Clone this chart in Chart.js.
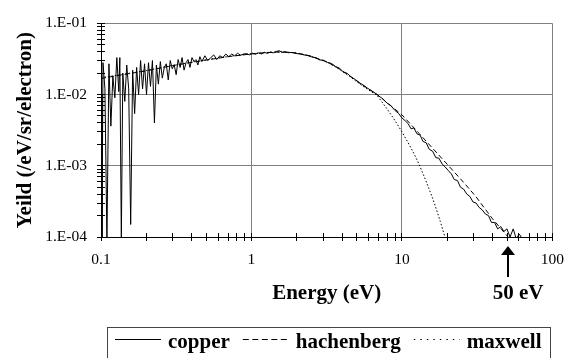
<!DOCTYPE html>
<html>
<head>
<meta charset="utf-8">
<script src="https://cdn.jsdelivr.net/npm/chart.js@4.4.1/dist/chart.umd.min.js"></script>
<style>
  html, body { margin: 0; padding: 0; background: #fff; }
  #wrap { width: 578px; height: 358px; }
</style>
</head>
<body>
<div id="wrap"><canvas id="yield-chart" width="578" height="358"></canvas></div>
<script>
// major ticks + labels
const xMajor = [0.1, 1, 10, 100]
const xLabels = ['0.1', '1', '10', '100']
const yMajor = [1e-4, 1e-3, 1e-2, 1e-1]
const yLabels = ['1.E-04', '1.E-03', '1.E-02', '1.E-01']
const arrowAt = 50
const arrowText = '50 eV'

// measured copper spectrum [energy eV, yield]
const copper = [
  [0.100, 0.0100], [0.1015, 0.00009], [0.1031, 0.028], [0.1062, 0.012], [0.1095, 0.00009],
  [0.1129, 0.027], [0.1163, 0.0036], [0.1199, 0.018], [0.1236, 0.009], [0.1274, 0.033],
  [0.1313, 0.011], [0.1334, 0.033], [0.1365, 0.00009], [0.1396, 0.020], [0.1439, 0.008],
  [0.1483, 0.026], [0.1528, 0.012], [0.1575, 0.00015], [0.1623, 0.022], [0.1673, 0.0054],
  [0.1725, 0.024], [0.1778, 0.010], [0.1833, 0.030], [0.1889, 0.012], [0.1947, 0.027],
  [0.2007, 0.010], [0.2068, 0.028], [0.2132, 0.013], [0.2197, 0.030], [0.2265, 0.0040],
  [0.2334, 0.026], [0.2406, 0.014], [0.2480, 0.029], [0.2556, 0.017], [0.2634, 0.024],
  [0.2715, 0.027], [0.2799, 0.016], [0.2885, 0.030], [0.2973, 0.023], [0.3065, 0.026],
  [0.3159, 0.019], [0.3256, 0.031], [0.3356, 0.024], [0.3459, 0.033], [0.3565, 0.022],
  [0.3675, 0.028], [0.3788, 0.031], [0.3904, 0.024], [0.4024, 0.033], [0.4148, 0.029],
  [0.4275, 0.031], [0.4406, 0.026], [0.4541, 0.034], [0.4680, 0.029], [0.490, 0.035],
  [0.512, 0.030], [0.537, 0.033], [0.562, 0.036], [0.588, 0.031], [0.616, 0.035],
  [0.645, 0.033], [0.675, 0.037], [0.707, 0.034], [0.739, 0.037], [0.773, 0.035],
  [0.809, 0.038], [0.847, 0.0355], [0.886, 0.037], [0.927, 0.0375], [0.970, 0.036],
  [1.015, 0.038], [1.063, 0.0368], [1.112, 0.0385], [1.164, 0.0372], [1.218, 0.0392],
  [1.274, 0.0378], [1.334, 0.0395], [1.396, 0.0384], [1.460, 0.0402], [1.528, 0.0412],
  [1.600, 0.0392], [1.674, 0.0398], [1.751, 0.0386], [1.860, 0.0390], [1.976, 0.0376],
  [2.099, 0.0372], [2.230, 0.0360], [2.369, 0.0354], [2.517, 0.0336], [2.674, 0.0328],
  [2.840, 0.0306], [3.018, 0.0302], [3.206, 0.0282], [3.406, 0.0273], [3.618, 0.0248],
  [3.844, 0.0234], [4.084, 0.0207], [4.338, 0.0198], [4.609, 0.0175], [4.896, 0.0163],
  [5.202, 0.0147], [5.526, 0.0136], [5.871, 0.0124], [6.237, 0.0114], [6.626, 0.0105],
  [7.04, 0.0095], [7.48, 0.0087], [7.95, 0.0076], [8.44, 0.0070], [8.97, 0.0060],
  [9.53, 0.0054], [10.0, 0.0047], [10.5, 0.0043], [11.0, 0.0039], [11.5, 0.0033],
  [12.0, 0.0034], [12.6, 0.0028], [13.2, 0.0027], [13.8, 0.0022], [14.5, 0.0021],
  [15.2, 0.0017], [16.0, 0.0016], [16.8, 0.0013], [17.6, 0.00128], [18.5, 0.00106],
  [19.4, 0.00096], [20.3, 0.00086], [21.3, 0.00077], [22.3, 0.00064], [23.4, 0.00062],
  [24.5, 0.00050], [25.7, 0.00047], [27.0, 0.00040], [28.3, 0.00037], [29.7, 0.00031],
  [31.1, 0.00030], [32.6, 0.00026], [34.2, 0.00024], [35.9, 0.00021], [37.6, 0.00020],
  [39.4, 0.00016], [41.3, 0.00016], [43.3, 0.00013], [45.4, 0.00014], [47.6, 0.00012],
  [49.9, 0.00013], [52.3, 0.000100], [54.9, 0.00013], [57.5, 0.000095], [60.3, 0.00011],
  [62.0, 0.00010]
]

// hachenberg fit
const hachE = [0.1, 0.15, 0.2, 0.3, 0.5, 0.7, 1.0, 1.25, 1.5, 1.75, 2.0, 2.5, 3.2, 3.8, 4.5, 5.5,
  6.85, 8.0, 10, 13, 16, 20, 26, 31, 40, 53, 60]
const hachY = [0.0168, 0.0195, 0.0215, 0.0255, 0.0305, 0.034, 0.0372, 0.0387, 0.0395, 0.0393, 0.0383,
  0.0345, 0.0285, 0.0232, 0.0183, 0.0135, 0.0100, 0.0076, 0.0052, 0.00285, 0.00176, 0.00105,
  0.00057, 0.00037, 0.00018, 0.00009, 0.000066]

// maxwell fit
const maxE = [0.1, 0.15, 0.2, 0.3, 0.5, 0.7, 1.0, 1.25, 1.5, 1.75, 2.0, 2.5, 3.2, 3.8, 4.5, 5.5,
  6.85, 8, 9, 10, 11, 12, 13, 14, 15, 16, 17, 18, 19, 20, 21]
const maxY = [0.0172, 0.0197, 0.0217, 0.0257, 0.0307, 0.0342, 0.0374, 0.0389, 0.0396, 0.0393, 0.0383,
  0.0344, 0.0283, 0.0229, 0.0179, 0.0131, 0.0097, 0.0062, 0.0043, 0.0030, 0.0021, 0.0015,
  0.00105, 0.00072, 0.00050, 0.00035, 0.00024, 0.000165, 0.000112, 0.000076, 0.00005]

const serif = "'Liberation Serif', 'Times New Roman', serif"
Chart.defaults.font.family = serif
Chart.defaults.color = "#000"

// decade ticks plus 2..9 minor ticks
function logTicks(majors) {
  let out = []
  majors.forEach((m, i) => {
    out.push({ value: m, major: true })
    if (i < majors.length - 1) {
      for (let k = 2; k <= 9; k++) out.push({ value: m * k, major: false })
    }
  })
  return out
}

function align(p) {
  return Math.round(p - 0.5) + 0.5
}

const extras = {
  id: "extras",
  afterDraw(chart) {
    const { ctx, chartArea: a, scales: { x, y } } = chart
    ctx.save()
    // tick marks crossing the axes
    ctx.strokeStyle = "#000"
    ctx.lineWidth = 1
    ctx.beginPath()
    x.ticks.forEach(t => {
      const px = align(x.getPixelForValue(t.value))
      ctx.moveTo(px, a.bottom - 4)
      ctx.lineTo(px, a.bottom + 4)
    })
    y.ticks.forEach(t => {
      const py = align(y.getPixelForValue(t.value))
      ctx.moveTo(a.left - 4, py)
      ctx.lineTo(a.left + 4, py)
    })
    ctx.stroke()

    // 50 eV arrow
    const ax = Math.round(x.getPixelForValue(arrowAt)) + 1
    ctx.lineWidth = 2
    ctx.beginPath()
    ctx.moveTo(ax, 277)
    ctx.lineTo(ax, 253)
    ctx.stroke()
    ctx.fillStyle = "#000"
    ctx.beginPath()
    ctx.moveTo(ax, 246)
    ctx.lineTo(ax - 7, 255)
    ctx.lineTo(ax + 7, 255)
    ctx.closePath()
    ctx.fill()
    ctx.font = "bold 21px " + serif
    ctx.textAlign = "center"
    ctx.textBaseline = "alphabetic"
    ctx.fillText(arrowText, ax + 10, 299)

    // legend box
    ctx.lineWidth = 1
    ctx.strokeStyle = "#444"
    ctx.strokeRect(107.5, 327.5, 443, 40)
    ctx.textAlign = "left"
    ctx.strokeStyle = "#000"
    let lx = 115
    chart.data.datasets.forEach(ds => {
      ctx.setLineDash(ds.legendDash || [])
      ctx.beginPath()
      ctx.moveTo(lx, 339.5)
      ctx.lineTo(lx + 46, 339.5)
      ctx.stroke()
      ctx.setLineDash([])
      ctx.fillText(ds.label, lx + 53, 348)
      lx += 53 + ctx.measureText(ds.label).width + 13
    })
    ctx.restore()
  }
}

const gridColor = c => (c.tick && c.tick.major ? "#808080" : "rgba(0,0,0,0)")

const config = {
  type: "line",
  data: {
    datasets: [{
      label: "copper",
      data: copper.map(p => ({ x: p[0], y: p[1] })),
      borderColor: "#000",
      borderWidth: 1,
      pointRadius: 0,
      legendDash: []
    }, {
      label: "hachenberg",
      data: hachE.map((e, i) => ({ x: e, y: hachY[i] })),
      borderColor: "#000",
      borderWidth: 1,
      borderDash: [5, 3],
      pointRadius: 0,
      legendDash: [6, 3.5]
    }, {
      label: "maxwell",
      data: maxE.map((e, i) => ({ x: e, y: maxY[i] })),
      borderColor: "#000",
      borderWidth: 1,
      borderDash: [1.5, 2],
      pointRadius: 0,
      legendDash: [1.5, 5]
    }]
  },
  options: {
    responsive: false,
    devicePixelRatio: 1,
    animation: false,
    layout: { padding: { top: 12, right: 21, bottom: 0, left: 0 } },
    plugins: {
      legend: { display: false },
      tooltip: { enabled: false }
    },
    scales: {
      x: {
        type: "logarithmic",
        min: 0.1,
        max: 100,
        afterBuildTicks: s => { s.ticks = logTicks(xMajor) },
        afterFit: s => { s.height = 121 },
        grid: { drawTicks: false, color: gridColor },
        border: { color: "#000", width: 1 },
        ticks: {
          autoSkip: false,
          maxRotation: 0,
          padding: 14,
          font: { size: 15.5 },
          callback: v => {
            const i = xMajor.indexOf(v)
            return i >= 0 ? xLabels[i] : ""
          }
        },
        title: {
          display: true,
          text: "Energy (eV)",
          font: { size: 21, weight: "bold" },
          padding: { top: 0, bottom: 52 }
        }
      },
      y: {
        type: "logarithmic",
        min: 1e-4,
        max: 1e-1,
        afterBuildTicks: s => { s.ticks = logTicks(yMajor) },
        afterFit: s => { s.width = 101 },
        grid: { drawTicks: false, color: gridColor },
        border: { color: "#000", width: 1 },
        ticks: {
          autoSkip: false,
          padding: 14,
          font: { size: 15.5 },
          callback: v => {
            const i = yMajor.indexOf(v)
            return i >= 0 ? yLabels[i] : ""
          }
        },
        title: {
          display: true,
          text: "Yeild (/eV/sr/electron)",
          font: { size: 21, weight: "bold" },
          padding: { top: 13, bottom: 0 }
        }
      }
    }
  },
  plugins: [extras]
}

new Chart(document.getElementById("yield-chart").getContext("2d"), config)
</script>
</body>
</html>
